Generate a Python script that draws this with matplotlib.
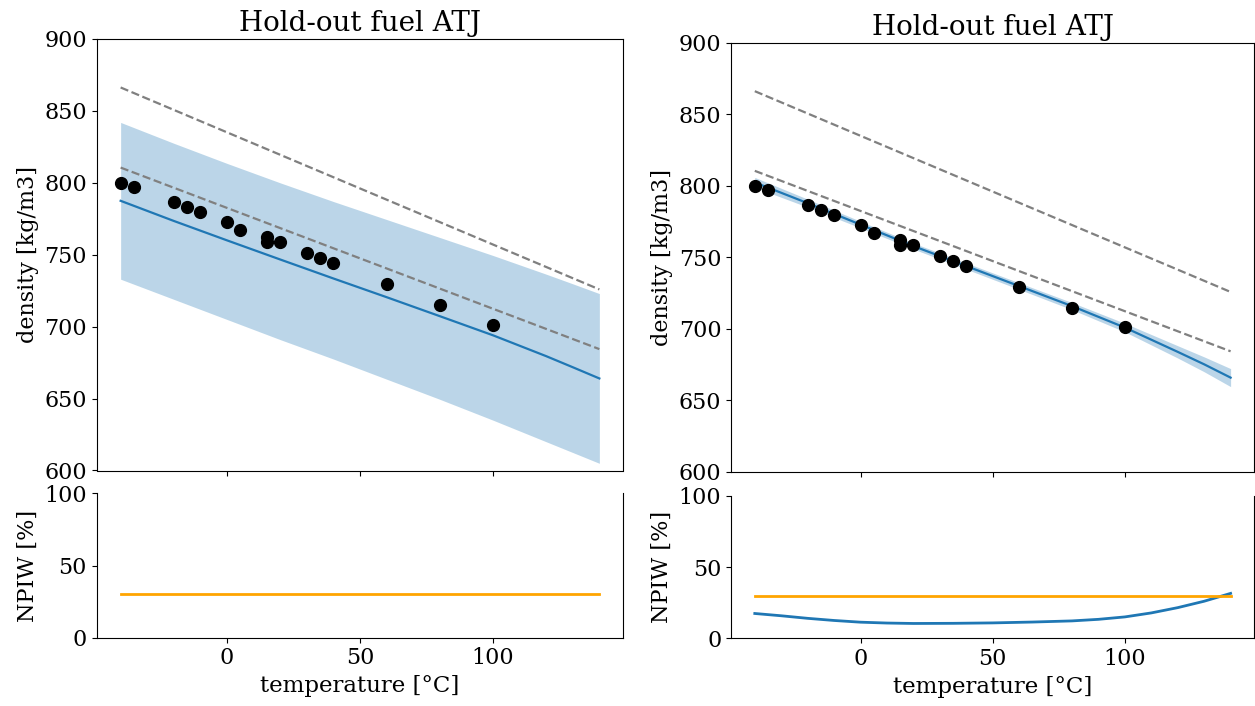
import numpy as np
import matplotlib
matplotlib.use("Agg")
import matplotlib.pyplot as plt

plt.rcParams['font.family'] = 'DejaVu Serif'
plt.rcParams['font.size'] = 16

# measured densities of the hold-out fuel
temp_obs = [-40, -35, -20, -15, -10, 0, 5, 15, 15, 20, 30, 35, 40, 60, 80, 100]
dens_obs = [800.2, 797.2, 786.8, 783.3, 779.6, 772.5, 766.9, 762.0, 758.8, 758.6,
            751.0, 747.5, 744.0, 729.6, 715.0, 701.2]

# reference bounds (dashed)
temp_ref = [-40, 140]
ref_upper = [866.3, 725.9]
ref_lower = [810.6, 684.4]

# prediction grid
temp_pred = [-40, -20, 0, 20, 40, 60, 80, 100, 120, 130, 140]

# left model
mean_l = [787.5, 773.5, 760.0, 746.7, 733.5, 720.5, 707.3, 694.0, 679.5, 671.8, 664.0]
upper_l = [842.0, 827.5, 813.5, 800.0, 787.0, 774.5, 762.0, 749.5, 736.5, 729.8, 723.0]
lower_l = [733.0, 719.0, 705.0, 691.0, 677.5, 663.5, 649.5, 635.0, 620.0, 612.5, 605.0]
npiw_l = [272, 270, 270, 270, 269, 272, 275, 278, 288, 291, 295]

# right model
mean_r = [802.5, 788.0, 773.0, 758.0, 744.0, 730.0, 716.0, 701.0, 684.0, 675.3, 666.0]
upper_r = [806.0, 790.8, 775.3, 760.1, 746.2, 732.3, 718.5, 704.0, 688.3, 680.5, 672.3]
lower_r = [799.0, 785.2, 770.7, 755.9, 741.8, 727.7, 713.5, 698.0, 679.7, 670.1, 659.7]
temp_npiw_r = [-40, -30, -20, -10, 0, 10, 20, 35, 50, 65, 80, 90, 100, 110, 120, 130, 140]
npiw_r = [17.4, 15.8, 14.0, 12.5, 11.3, 10.7, 10.4, 10.5, 10.8, 11.4, 12.2,
          13.3, 15.0, 17.8, 21.5, 26.0, 31.5]

npiw_target = 30

W, H = 1255, 706
fig = plt.figure(figsize=(W / 100, H / 100), dpi=100)


def box(x0, y0, x1, y1):
    return [x0 / W, 1 - y1 / H, (x1 - x0) / W, (y1 - y0) / H]


panels = [
    (box(96.7, 39, 623.3, 470.5), box(96.7, 493.3, 623.3, 637.7),
     mean_l, upper_l, lower_l, temp_pred, npiw_l),
    (box(731, 43, 1254.4, 472), box(731, 495.7, 1254.4, 638.3),
     mean_r, upper_r, lower_r, temp_npiw_r, npiw_r),
]

for top_pos, bot_pos, mean, upper, lower, t_npiw, npiw in panels:
    ax = fig.add_axes(top_pos)
    ax.fill_between(temp_pred, lower, upper, color='C0', alpha=0.3, lw=0)
    ax.plot(temp_pred, mean, color='C0', lw=1.6)
    ax.plot(temp_ref, ref_upper, '--', color='grey', lw=1.6)
    ax.plot(temp_ref, ref_lower, '--', color='grey', lw=1.6)
    ax.plot(temp_obs, dens_obs, 'ko', ms=8.5)
    ax.set_ylim(600, 900)
    ax.set_xlim(-49, 149)
    ax.set_xticks([0, 50, 100])
    ax.set_xticklabels([])
    ax.set_ylabel('density [kg/m3]', fontsize=16)
    ax.set_title('Hold-out fuel ATJ', fontsize=20)

    bx = fig.add_axes(bot_pos)
    bx.plot(t_npiw, npiw, color='C0', lw=2)
    bx.plot([-40, 140], [npiw_target, npiw_target], color='orange', lw=2)
    bx.set_ylim(0, 100)
    bx.set_xlim(-49, 149)
    bx.set_xticks([0, 50, 100])
    bx.spines['top'].set_visible(False)
    bx.set_ylabel('NPIW [%]', fontsize=16)
    bx.set_xlabel('temperature [°C]', fontsize=16.5)

fig.savefig('out.png', dpi=100)
